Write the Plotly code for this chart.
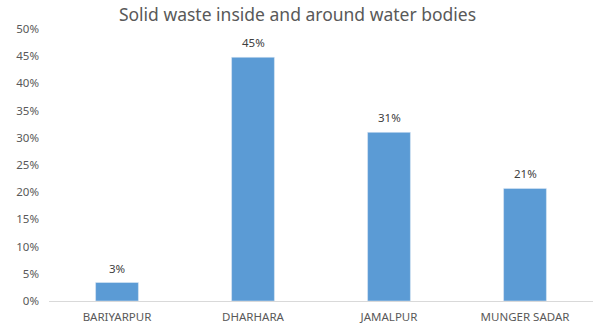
import plotly.graph_objects as go

blocks = ["BARIYARPUR", "DHARHARA", "JAMALPUR", "MUNGER SADAR"]
share = [0.034, 0.448, 0.310, 0.207]
y_ticks = [0, 0.05, 0.10, 0.15, 0.20, 0.25, 0.30, 0.35, 0.40, 0.45, 0.50]

FONT = "Noto Sans, Open Sans, sans-serif"
GREY = "#595959"

fig = go.Figure(
    go.Bar(
        x=blocks,
        y=share,
        marker_color="#5b9bd5",
        width=0.315,
        hovertemplate="%{x}: %{y:.1%}<extra></extra>",
    )
)

# data labels sit a bit above the bars, like the spreadsheet original
for name, v in zip(blocks, share):
    fig.add_annotation(
        x=name, y=v, text=f"{v:.0%}", showarrow=False,
        yanchor="bottom", yshift=5,
        font=dict(size=11.5, color="#404040"),
    )

fig.update_layout(
    title=dict(
        text="Solid waste inside and around water bodies",
        x=0.5, xanchor="center", xref="container",
        y=0.953, yanchor="middle", yref="container",
        font=dict(family=FONT, size=17.5, color=GREY),
    ),
    font=dict(family=FONT, size=11.5, color=GREY),
    plot_bgcolor="white",
    paper_bgcolor="white",
    width=595,
    height=324,
    margin=dict(l=49, r=2, t=29, b=23, autoexpand=False),
    showlegend=False,
    bargap=0.685,
    xaxis=dict(
        showline=True, linecolor="#d9d9d9", linewidth=1,
        showgrid=False, ticks="", automargin=False,
        tickfont=dict(size=11.5, color=GREY), ticklabelstandoff=5,
    ),
    yaxis=dict(
        range=[0, 0.5], tickvals=y_ticks, tickformat=".0%",
        showgrid=False, zeroline=False, showline=False, automargin=False,
        tickfont=dict(size=11.5, color=GREY), ticklabelstandoff=9,
    ),
)

# drop the browser's default 8px body margin so the figure fills the window
fig.write_html(
    "out.html",
    config={"displayModeBar": False},
    post_script="document.body.style.margin='0';",
)
